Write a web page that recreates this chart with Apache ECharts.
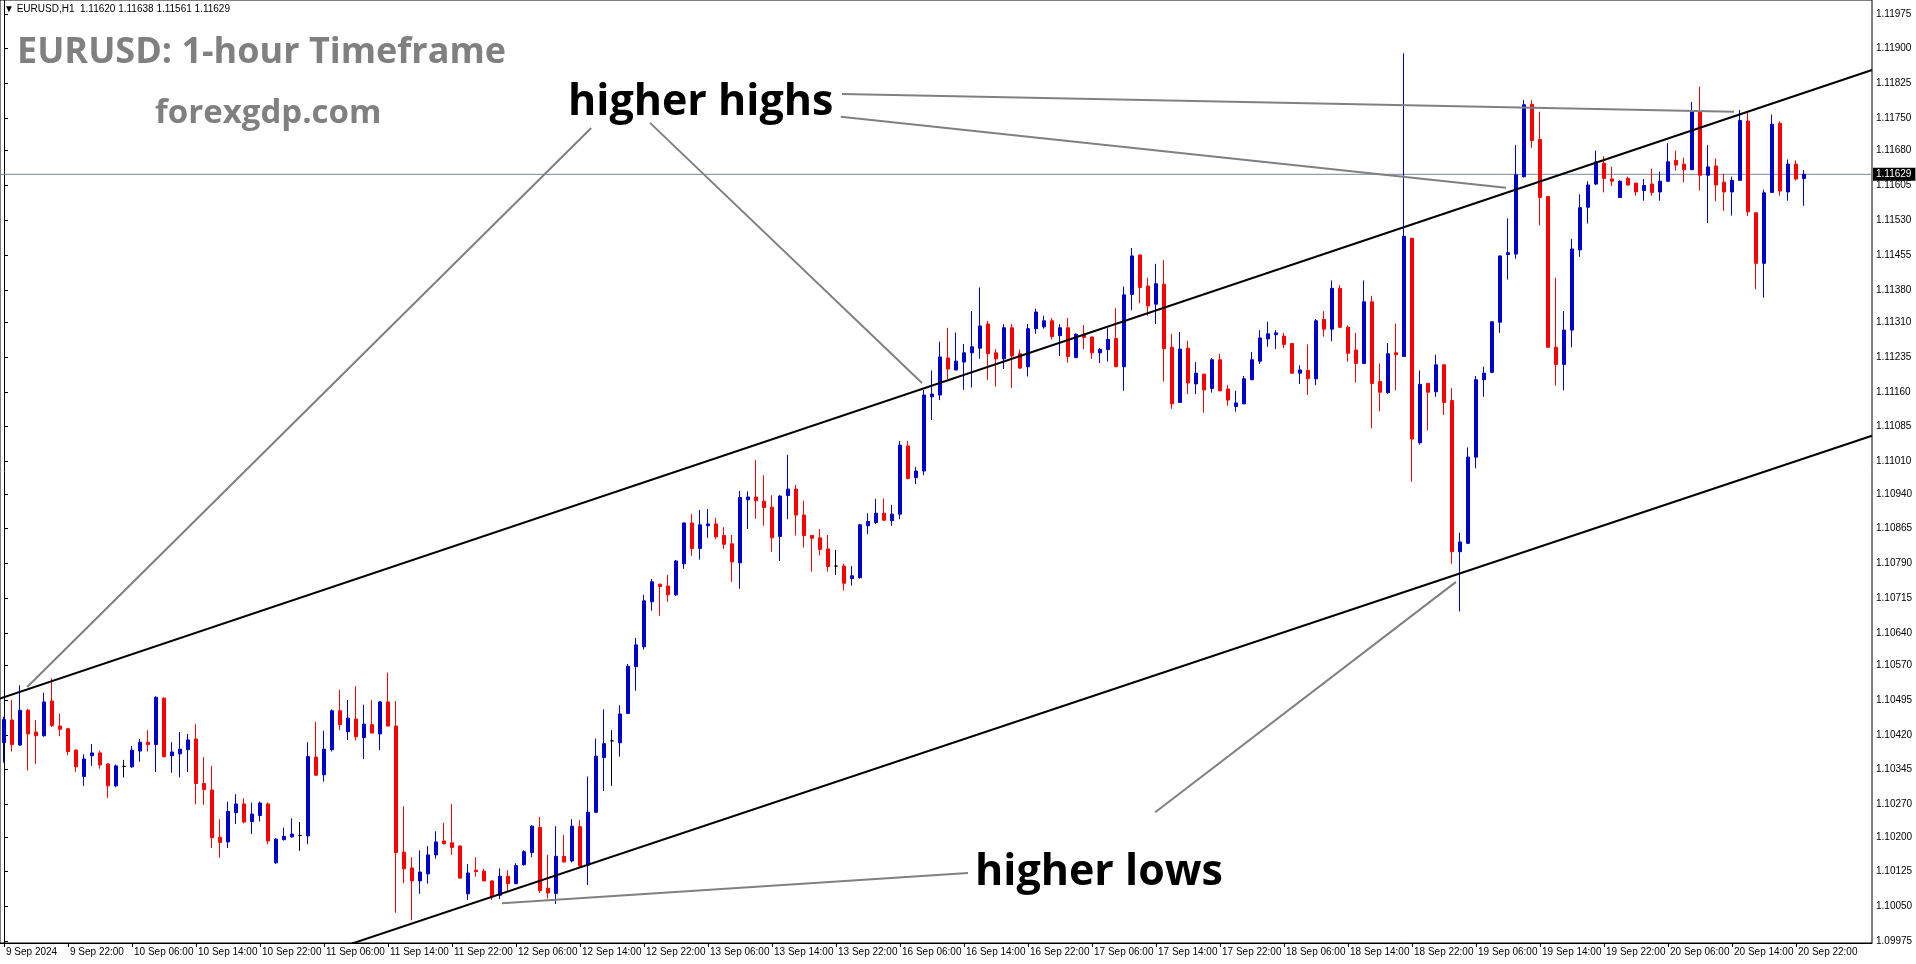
<!DOCTYPE html>
<html><head><meta charset="utf-8">
<script src="https://cdn.jsdelivr.net/npm/echarts@6/dist/echarts.min.js"></script>
<style>html,body{margin:0;padding:0;background:#fff;}#c{width:1916px;height:964px;}</style>
</head><body><div id="c"></div>
<script>
// ---- data (EURUSD H1, 9 Sep 14:00 -> 20 Sep 23:00) ----
const opens = [1.10403,1.10452,1.10398,1.10473,1.10426,1.10418,1.10493,1.10439,1.10433,1.10387,
1.10330,1.10375,1.10381,1.10357,1.10310,1.10352,1.10351,1.10385,1.10404,1.10399,
1.10499,1.10375,1.10379,1.10388,1.10411,1.10315,1.10301,1.10199,1.10189,1.10252,
1.10271,1.10233,1.10246,1.10271,1.10144,1.10194,1.10200,1.10203,1.10202,1.10372,
1.10334,1.10388,1.10472,1.10427,1.10454,1.10414,1.10442,1.10422,1.10491,1.10439,
1.10167,1.10133,1.10105,1.10120,1.10161,1.10191,1.10187,1.10180,1.10077,1.10128,
1.10126,1.10105,1.10074,1.10115,1.10099,1.10140,1.10166,1.10220,1.10089,1.10078,
1.10158,1.10148,1.10222,1.10139,1.10253,1.10371,1.10407,1.10403,1.10466,1.10567,
1.10610,1.10707,1.10745,1.10741,1.10722,1.10789,1.10877,1.10822,1.10871,1.10875,
1.10850,1.10832,1.10791,1.10927,1.10933,1.10924,1.10911,1.10848,1.10936,1.10950,
1.10894,1.10850,1.10845,1.10821,1.10784,1.10784,1.10757,1.10759,1.10871,1.10878,
1.10898,1.10882,1.10896,1.11043,1.10975,1.10989,1.11149,1.11153,1.11233,1.11207,
1.11224,1.11244,1.11254,1.11306,1.11244,1.11231,1.11298,1.11242,1.11214,1.11296,
1.11300,1.11313,1.11281,1.11298,1.11234,1.11284,1.11278,1.11244,1.11251,1.11275,
1.11214,1.11370,1.11455,1.11388,1.11349,1.11392,1.11256,1.11137,1.11254,1.11177,
1.11198,1.11167,1.11229,1.11166,1.11128,1.11134,1.11186,1.11226,1.11274,1.11283,
1.11280,1.11264,1.11200,1.11206,1.11188,1.11316,1.11295,1.11383,1.11299,1.11250,
1.11221,1.11354,1.11182,1.11158,1.11244,1.11236,1.11491,1.11050,1.11178,1.11160,
1.11218,1.11141,1.10815,1.10833,1.11019,1.11186,1.11202,1.11310,1.11456,1.11457,
1.11624,1.11780,1.11704,1.11581,1.11256,1.11219,1.11293,1.11466,1.11558,1.11608,
1.11653,1.11619,1.11579,1.11620,1.11610,1.11594,1.11608,1.11591,1.11614,1.11659,
1.11651,1.11639,1.11764,1.11627,1.11647,1.11612,1.11591,1.11616,1.11744,1.11546,
1.11437,1.11590,1.11739,1.11591,1.11651,1.11620];
const closes = [1.10453,1.10399,1.10473,1.10422,1.10418,1.10491,1.10440,1.10432,1.10384,1.10351,
1.10368,1.10381,1.10355,1.10310,1.10353,1.10352,1.10387,1.10404,1.10399,1.10501,
1.10373,1.10383,1.10389,1.10409,1.10315,1.10302,1.10198,1.10188,1.10255,1.10271,
1.10232,1.10249,1.10273,1.10191,1.10195,1.10201,1.10206,1.10203,1.10373,1.10333,
1.10389,1.10472,1.10442,1.10456,1.10416,1.10443,1.10424,1.10491,1.10439,1.10166,
1.10131,1.10105,1.10124,1.10161,1.10189,1.10185,1.10177,1.10111,1.10122,1.10125,
1.10105,1.10071,1.10115,1.10099,1.10138,1.10168,1.10223,1.10084,1.10079,1.10158,
1.10146,1.10223,1.10137,1.10253,1.10374,1.10401,1.10407,1.10465,1.10568,1.10614,
1.10709,1.10750,1.10740,1.10722,1.10795,1.10877,1.10822,1.10873,1.10875,1.10847,
1.10831,1.10793,1.10932,1.10933,1.10925,1.10910,1.10845,1.10935,1.10950,1.10894,
1.10850,1.10844,1.10820,1.10783,1.10784,1.10747,1.10763,1.10873,1.10880,1.10898,
1.10883,1.10896,1.11045,1.10973,1.10989,1.11153,1.11155,1.11235,1.11209,1.11226,
1.11244,1.11257,1.11302,1.11242,1.11231,1.11298,1.11237,1.11211,1.11296,1.11332,
1.11313,1.11279,1.11298,1.11236,1.11284,1.11277,1.11244,1.11251,1.11273,1.11214,
1.11369,1.11453,1.11385,1.11345,1.11393,1.11253,1.11134,1.11252,1.11179,1.11200,
1.11164,1.11229,1.11162,1.11142,1.11136,1.11188,1.11229,1.11276,1.11285,1.11287,
1.11262,1.11200,1.11207,1.11188,1.11313,1.11295,1.11383,1.11299,1.11243,1.11221,
1.11354,1.11178,1.11159,1.11242,1.11240,1.11495,1.11058,1.11176,1.11159,1.11218,
1.11137,1.10815,1.10836,1.11019,1.11186,1.11200,1.11311,1.11453,1.11460,1.11628,
1.11779,1.11702,1.11579,1.11256,1.11219,1.11293,1.11468,1.11557,1.11606,1.11656,
1.11620,1.11614,1.11614,1.11606,1.11591,1.11605,1.11590,1.11614,1.11656,1.11649,
1.11639,1.11764,1.11627,1.11645,1.11606,1.11591,1.11616,1.11745,1.11548,1.11437,
1.11589,1.11737,1.11593,1.11651,1.11619,1.11629];
const lows = [1.10360,1.10384,1.10396,1.10343,1.10357,1.10416,1.10437,1.10417,1.10376,1.10340,
1.10310,1.10353,1.10347,1.10284,1.10307,1.10328,1.10349,1.10362,1.10384,1.10340,
1.10371,1.10338,1.10328,1.10340,1.10270,1.10269,1.10176,1.10155,1.10176,1.10228,
1.10229,1.10206,1.10233,1.10184,1.10142,1.10192,1.10198,1.10170,1.10184,1.10331,
1.10319,1.10384,1.10430,1.10409,1.10408,1.10368,1.10423,1.10387,1.10438,1.10036,
1.10100,1.10020,1.10077,1.10099,1.10153,1.10184,1.10161,1.10110,1.10064,1.10114,
1.10104,1.10064,1.10066,1.10083,1.10098,1.10138,1.10156,1.10079,1.10067,1.10055,
1.10144,1.10145,1.10136,1.10096,1.10251,1.10299,1.10310,1.10373,1.10465,1.10515,
1.10604,1.10688,1.10677,1.10707,1.10720,1.10778,1.10806,1.10798,1.10845,1.10842,
1.10821,1.10750,1.10735,1.10864,1.10886,1.10871,1.10815,1.10795,1.10885,1.10850,
1.10824,1.10772,1.10807,1.10772,1.10765,1.10731,1.10742,1.10757,1.10853,1.10875,
1.10881,1.10871,1.10885,1.10971,1.10961,1.10980,1.11099,1.11142,1.11187,1.11206,
1.11164,1.11169,1.11231,1.11185,1.11171,1.11209,1.11168,1.11209,1.11193,1.11285,
1.11296,1.11273,1.11237,1.11223,1.11232,1.11252,1.11231,1.11222,1.11225,1.11213,
1.11162,1.11336,1.11351,1.11324,1.11306,1.11182,1.11123,1.11136,1.11155,1.11155,
1.11115,1.11158,1.11161,1.11130,1.11117,1.11133,1.11185,1.11220,1.11257,1.11252,
1.11254,1.11199,1.11177,1.11153,1.11174,1.11279,1.11269,1.11298,1.11225,1.11180,
1.11220,1.11081,1.11118,1.11155,1.11163,1.11235,1.10966,1.11046,1.11077,1.11149,
1.11110,1.10789,1.10686,1.10832,1.10995,1.11149,1.11200,1.11287,1.11402,1.11447,
1.11622,1.11686,1.11519,1.11255,1.11173,1.11163,1.11256,1.11451,1.11523,1.11606,
1.11590,1.11604,1.11578,1.11604,1.11583,1.11572,1.11583,1.11572,1.11613,1.11637,
1.11612,1.11638,1.11594,1.11524,1.11571,1.11550,1.11540,1.11615,1.11539,1.11381,
1.11363,1.11589,1.11583,1.11572,1.11616,1.11561];
const highs = [1.10459,1.10495,1.10527,1.10476,1.10452,1.10511,1.10542,1.10466,1.10435,1.10389,
1.10378,1.10400,1.10386,1.10359,1.10356,1.10366,1.10396,1.10411,1.10430,1.10503,
1.10501,1.10404,1.10426,1.10422,1.10443,1.10372,1.10353,1.10238,1.10276,1.10292,
1.10283,1.10274,1.10276,1.10274,1.10197,1.10220,1.10240,1.10232,1.10404,1.10448,
1.10429,1.10475,1.10517,1.10495,1.10525,1.10485,1.10495,1.10493,1.10554,1.10493,
1.10266,1.10156,1.10171,1.10180,1.10212,1.10230,1.10271,1.10182,1.10141,1.10156,
1.10131,1.10106,1.10132,1.10128,1.10143,1.10171,1.10225,1.10243,1.10161,1.10223,
1.10204,1.10238,1.10236,1.10330,1.10412,1.10475,1.10430,1.10484,1.10573,1.10629,
1.10722,1.10756,1.10746,1.10765,1.10797,1.10878,1.10896,1.10905,1.10907,1.10888,
1.10868,1.10851,1.10946,1.10945,1.11013,1.10980,1.10937,1.10937,1.11024,1.10959,
1.10925,1.10851,1.10864,1.10851,1.10819,1.10789,1.10784,1.10875,1.10898,1.10929,
1.10930,1.10916,1.11054,1.11054,1.10998,1.11164,1.11206,1.11268,1.11298,1.11288,
1.11263,1.11334,1.11385,1.11313,1.11252,1.11306,1.11306,1.11251,1.11306,1.11339,
1.11324,1.11319,1.11306,1.11319,1.11286,1.11304,1.11279,1.11254,1.11297,1.11341,
1.11387,1.11470,1.11456,1.11406,1.11436,1.11444,1.11285,1.11289,1.11270,1.11224,
1.11199,1.11233,1.11242,1.11175,1.11162,1.11194,1.11246,1.11293,1.11311,1.11293,
1.11287,1.11265,1.11217,1.11262,1.11317,1.11334,1.11400,1.11390,1.11303,1.11287,
1.11400,1.11367,1.11221,1.11265,1.11307,1.11890,1.11492,1.11206,1.11179,1.11240,
1.11219,1.11168,1.10856,1.11040,1.11194,1.11214,1.11312,1.11454,1.11534,1.11692,
1.11789,1.11789,1.11764,1.11582,1.11406,1.11334,1.11490,1.11586,1.11614,1.11680,
1.11668,1.11645,1.11616,1.11624,1.11611,1.11619,1.11641,1.11635,1.11696,1.11680,
1.11665,1.11785,1.11818,1.11692,1.11663,1.11630,1.11624,1.11768,1.11764,1.11547,
1.11596,1.11758,1.11743,1.11661,1.11659,1.11638];

const sessionDays = ['9 Sep','10 Sep','11 Sep','12 Sep','13 Sep','16 Sep','17 Sep','18 Sep','19 Sep','20 Sep'];
const firstHour = 14;
const padBars = 8;   // empty chart-shift space on the right

const xTickLabels = ['9 Sep 2024','9 Sep 22:00','10 Sep 06:00','10 Sep 14:00','10 Sep 22:00','11 Sep 06:00',
'11 Sep 14:00','11 Sep 22:00','12 Sep 06:00','12 Sep 14:00','12 Sep 22:00','13 Sep 06:00','13 Sep 14:00',
'13 Sep 22:00','16 Sep 06:00','16 Sep 14:00','16 Sep 22:00','17 Sep 06:00','17 Sep 14:00','17 Sep 22:00',
'18 Sep 06:00','18 Sep 14:00','18 Sep 22:00','19 Sep 06:00','19 Sep 14:00','19 Sep 22:00','20 Sep 06:00',
'20 Sep 14:00','20 Sep 22:00'];
const yTickLabels = ['1.11975','1.11900','1.11825','1.11750','1.11680','1.11605','1.11530','1.11455','1.11380',
'1.11310','1.11235','1.11160','1.11085','1.11010','1.10940','1.10865','1.10790','1.10715','1.10640','1.10570',
'1.10495','1.10420','1.10345','1.10270','1.10200','1.10125','1.10050','1.09975'];

// channel lines and annotation leader lines, as [bar index, price]
const upperTrend = [[-0.5, 1.10498], [233.5, 1.11854]];
const lowerTrend = [[30, 1.09892], [233.5, 1.11065]];
const highsLeaders = [
  [[73.4, 1.11729], [2.9, 1.10523]],
  [[80.75, 1.11740], [114.75, 1.11179]],
  [[104.75, 1.11802], [216.25, 1.11764]],
  [[104.6, 1.11753], [187.75, 1.11600]]
];
const lowsLeaders = [
  [[120.5, 1.10122], [62.25, 1.10057]],
  [[143.9, 1.10253], [181.5, 1.10750]]
];

// ---- build ----
const categories = [];
sessionDays.forEach((d, k) => {
  for (let h = (k === 0 ? firstHour : 0); h < 24; h++) categories.push(d + ' ' + String(h).padStart(2, '0') + ':00');
});
for (let k = 0; k < padBars; k++) categories.push('pad' + k);
const nCat = categories.length;
const candles = opens.map((o, i) => [o, closes[i], lows[i], highs[i]]);
const lastI = opens.length - 1;
const bid = closes[lastI];
const header = '\u25BC EURUSD,H1  ' + [opens[lastI], highs[lastI], lows[lastI], closes[lastI]].map(v => v.toFixed(5)).join(' ');

const lineSeries = (pts, color, width) => ({
  type: 'line', xAxisIndex: 1, yAxisIndex: 0, data: pts, symbol: 'none', silent: true, z: 5,
  lineStyle: { color: color, width: width }, animation: false, clip: true
});

const labelFont = 'Liberation Sans';
const chart = echarts.init(document.getElementById('c'), null, { renderer: 'canvas' });
chart.setOption({
  animation: false,
  backgroundColor: '#ffffff',
  grid: { left: 0, right: 44, top: 0, bottom: 21, show: true, borderColor: '#000', borderWidth: 1, backgroundColor: 'transparent' },
  xAxis: [{
    type: 'category', data: categories, boundaryGap: true, position: 'bottom',
    axisLine: { show: true, lineStyle: { color: '#000', width: 1 } },
    axisTick: { show: true, alignWithLabel: true, length: 4, lineStyle: { color: '#000' },
      interval: (i) => i % 8 === 0 && i / 8 < xTickLabels.length },
    axisLabel: { show: true, interval: (i) => i % 8 === 0 && i / 8 < xTickLabels.length,
      align: 'left', margin: 4, padding: [0, 0, 0, 2], color: '#000', fontSize: 10, fontFamily: labelFont,
      formatter: (v, i) => (i % 8 === 0 && xTickLabels[i / 8]) ? xTickLabels[i / 8] : '' },
    splitLine: { show: false }
  }, {
    type: 'value', min: -0.5, max: nCat - 0.5, show: false, position: 'top'
  }],
  yAxis: [{
    type: 'value', position: 'right', min: 1.09971, max: 1.12005, scale: true,
    axisLine: { show: true, lineStyle: { color: '#000', width: 1 } },
    axisTick: { show: true, length: 4, lineStyle: { color: '#000' }, customValues: yTickLabels.map(Number) },
    axisLabel: { show: true, margin: 4, color: '#000', fontSize: 10, fontFamily: labelFont,
      customValues: yTickLabels.map(Number), formatter: (v) => v.toFixed(5) },
    splitLine: { show: false }
  }],
  graphic: [
    { type: 'text', left: 4, top: 4, z: 100, style: { text: header, font: '10px "Liberation Sans"', fill: '#000' } },
    { type: 'text', left: 17, top: 35, z: 100, style: { text: 'EURUSD: 1-hour Timeframe', font: 'bold 36px "Open Sans"', fill: '#808080' } },
    { type: 'text', left: 155, top: 97, z: 100, style: { text: 'forexgdp.com', font: 'bold 33px "Open Sans"', fill: '#808080' } },
    { type: 'text', left: 568, top: 81, z: 100, style: { text: 'higher highs', font: 'bold 43px "Open Sans"', fill: '#000' } },
    { type: 'text', left: 975, top: 851, z: 100, style: { text: 'higher lows', font: 'bold 43px "Open Sans"', fill: '#000' } }
  ],
  series: [
    {
      type: 'candlestick', xAxisIndex: 0, yAxisIndex: 0, data: candles, barWidth: 4, z: 2,
      itemStyle: { color: '#0000CD', color0: '#FF0000', borderColor: '#0000CD', borderColor0: '#FF0000',
        borderColorDoji: '#000000', borderWidth: 1 }
    },
    {
      type: 'line', xAxisIndex: 1, yAxisIndex: 0, data: [[-0.5, bid], [nCat - 0.5, bid]], symbol: 'none',
      silent: true, z: 1, clip: false, animation: false,
      lineStyle: { color: '#778899', width: 1 },
      endLabel: { show: true, distance: 1, formatter: () => bid.toFixed(5), backgroundColor: '#000', color: '#fff',
        padding: [2, 4, 1, 3], fontSize: 10, fontFamily: labelFont }
    },
    lineSeries(upperTrend, '#000', 2),
    lineSeries(lowerTrend, '#000', 2),
    ...highsLeaders.map(p => lineSeries(p, '#808080', 2)),
    ...lowsLeaders.map(p => lineSeries(p, '#808080', 2))
  ]
});
</script>
</body></html>
